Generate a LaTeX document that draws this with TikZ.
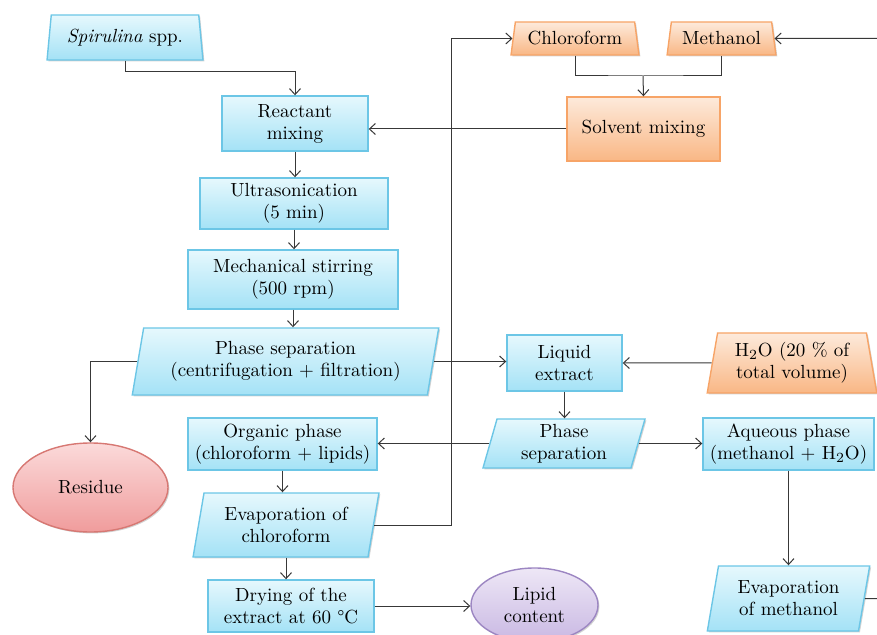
\documentclass[tikz,border=0pt]{standalone}
\usepackage{fontspec}
\usepackage{tikz}
\usetikzlibrary{shapes.geometric,shadows,arrows.meta}

\definecolor{cyanline}{HTML}{6CC6E6}
\definecolor{cyantop}{HTML}{E6F8FD}
\definecolor{cyanbot}{HTML}{A4E2F6}
\definecolor{orline}{HTML}{F7A467}
\definecolor{ortop}{HTML}{FDEADB}
\definecolor{orbot}{HTML}{F9B785}
\definecolor{redline}{HTML}{D77873}
\definecolor{redtop}{HTML}{FBDADA}
\definecolor{redbot}{HTML}{F09C9C}
\definecolor{purline}{HTML}{9C86C2}
\definecolor{purtop}{HTML}{EEE7F6}
\definecolor{purbot}{HTML}{C9B8E3}

\begin{document}
\begin{tikzpicture}[x=0.5pt,y=-0.5pt,
    box/.style={line width=0.7pt, align=center, inner sep=0pt,
        font=\fontsize{9.5}{11}\selectfont,
        drop shadow={shadow xshift=0.7pt,shadow yshift=-0.7pt,fill=black!50,opacity=0.35}},
    bluebox/.style={box, rectangle, draw=cyanline, top color=cyantop, bottom color=cyanbot},
    bluepar/.style={bluebox, trapezium, trapezium left angle=77, trapezium right angle=103,
        trapezium stretches=true},
    bluetrap/.style={bluebox, trapezium, trapezium left angle=79, trapezium right angle=79,
        trapezium stretches=true},
    orbox/.style={box, rectangle, draw=orline, top color=ortop, bottom color=orbot},
    ortrap/.style={orbox, trapezium, trapezium left angle=#1, trapezium right angle=#1,
        trapezium stretches=true},
    ortrap/.default=76,
    redoval/.style={box, ellipse, draw=redline, top color=redtop, bottom color=redbot},
    puroval/.style={box, ellipse, draw=purline, top color=purtop, bottom color=purbot},
    flow/.style={draw=black!78, line width=0.5pt, -{Straight Barb[length=3pt,width=5.5pt]}},
    link/.style={draw=black!78, line width=0.5pt}]
    \clip (0,0) rectangle (877,635);
    \useasboundingbox (0,0) rectangle (877,635);

    % main column
    \node[bluetrap, minimum width=78pt, minimum height=22.5pt] (spir) at (125,37.5) {\textit{Spirulina} spp.};
    \node[bluebox, minimum width=73pt, minimum height=27.5pt] (react) at (295,123.5) {Reactant\\mixing};
    \node[bluebox, minimum width=94pt, minimum height=25.5pt] (ultra) at (294,203.5) {Ultrasonication\\(5 min)};
    \node[bluebox, minimum width=105pt, minimum height=29.5pt] (mech) at (293,279.5) {Mechanical stirring\\(500 rpm)};
    \node[bluepar, minimum width=153.5pt, minimum height=33.5pt] (phaseA) at (285.5,361.5) {Phase separation\\(centrifugation + filtration)};
    \node[redoval, minimum width=77.5pt, minimum height=44.5pt] (resid) at (90.5,487.5) {Residue};
    \node[bluebox, minimum width=94.5pt, minimum height=26pt] (organic) at (282.5,444) {Organic phase\\(chloroform + lipids)};
    \node[bluepar, minimum width=93pt, minimum height=32pt] (evapC) at (286,525) {Evaporation of\\chloroform};
    \node[bluebox, minimum width=83pt, minimum height=26pt] (dry) at (291,606) {Drying of the\\extract at 60 °C};
    \node[puroval, minimum width=63.5pt, minimum height=37pt] (lipid) at (534.5,605) {Lipid\\content};

    % solvents
    \node[ortrap, minimum width=64pt, minimum height=16.5pt] (chloro) at (575,38.5) {Chloroform};
    \node[ortrap, minimum width=54.5pt, minimum height=16.5pt] (meth) at (721.5,38.5) {Methanol};
    \node[orbox, minimum width=76.5pt, minimum height=32pt] (solv) at (643.5,129) {Solvent mixing};
    \node[ortrap=79, minimum width=85pt, minimum height=30pt] (water) at (792,363) {H$_2$O (20 \% of\\total volume)};

    % extract
    \node[bluebox, minimum width=57.5pt, minimum height=28pt] (liquid) at (564.5,363) {Liquid\\extract};
    \node[bluepar, minimum width=81pt, minimum height=24.5pt] (phaseB) at (564,443.5) {Phase\\separation};
    \node[bluebox, minimum width=85.5pt, minimum height=26pt] (aqueous) at (788.5,444) {Aqueous phase\\(methanol + H$_2$O)};
    \node[bluepar, minimum width=81.5pt, minimum height=32.5pt] (evapM) at (788.5,598.5) {Evaporation\\of methanol};

    \coordinate (mixj) at (643,76);
    \coordinate (rail) at (451,0);
    \coordinate (methin) at (877,38.5);
    \coordinate (methout) at (877,598.5);

    % connectors
    \draw[flow] (spir.south) -- ++(0,11) -| (react.north);
    \draw[flow] (react.south) -- (react.south |- ultra.north);
    \draw[flow] (ultra.south) -- (ultra.south |- mech.north);
    \draw[flow] (mech.south) -- (mech.south |- phaseA.north);
    \draw[flow] (phaseA.west) -| (resid.north);
    \draw[flow] (phaseA.east) -- (phaseA.east -| liquid.west);
    \draw[flow] (organic.south) -- (organic.south |- evapC.north);
    \draw[flow] (evapC.south) -- (evapC.south |- dry.north);
    \draw[flow] (dry.east) -- (dry.east -| lipid.west);
    \draw[flow] (evapC.east) -- (evapC.east -| rail) |- (chloro.west);
    \draw[link] (chloro.south) |- (mixj) -| (meth.south);
    \draw[flow] (mixj) -- (solv.north);
    \draw[flow] (methin) -- (meth.east);
    \draw[flow] (solv.west) -- (solv.west -| react.east);
    \draw[flow] (water.west) -- (liquid.east);
    \draw[flow] (liquid.south) -- (liquid.south |- phaseB.north);
    \draw[flow] (phaseB.west) -- (phaseB.west -| organic.east);
    \draw[flow] (phaseB.east) -- (phaseB.east -| aqueous.west);
    \draw[flow] (aqueous.south) -- (aqueous.south |- evapM.north);
    \draw[link] (evapM.east) -- (methout);
\end{tikzpicture}
\end{document}
